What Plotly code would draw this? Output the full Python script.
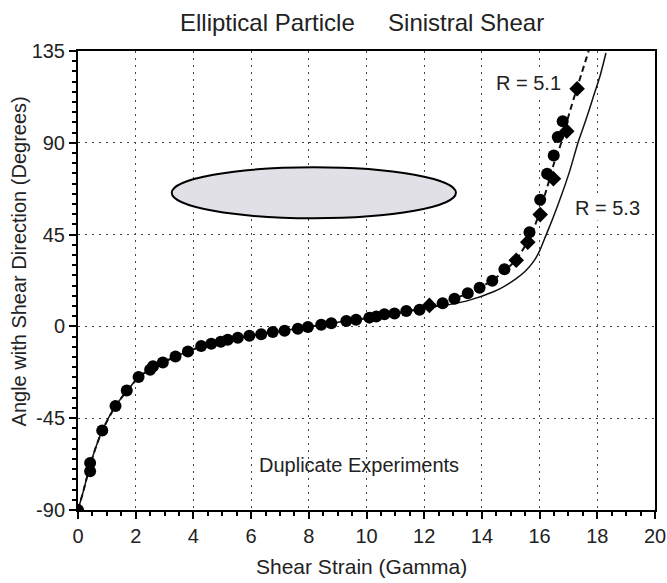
import plotly.graph_objects as go

# ---- data ----
circ_gamma = [0, 0.42, 0.42, 0.84, 1.3, 1.69, 2.1, 2.5, 2.6, 2.94, 3.38, 3.81, 4.27, 4.62, 4.95,
              5.19, 5.54, 5.94, 6.35, 6.75, 7.16, 7.62, 7.97, 8.43, 8.78, 9.30, 9.64, 10.10,
              10.34, 10.62, 10.97, 11.38, 11.84, 12.64, 13.05, 13.51, 13.92, 14.36, 14.78,
              15.65, 16.02, 16.26, 16.49, 16.63, 16.80]
circ_angle = [-90, -67, -71, -51, -39, -31.4, -24.8, -21.2, -19.5, -17.7, -14.8, -12.3, -9.6, -8.5, -7.5,
              -6.6, -5.6, -4.6, -3.8, -2.8, -2.1, -1.1, -0.3, 0.8, 1.6, 2.6, 3.3, 4.3,
              4.8, 6.0, 6.3, 7.5, 8.2, 11.4, 13.6, 16.2, 19.0, 22.4, 28.0,
              46.2, 62.1, 74.8, 83.8, 92.8, 100.6]

diam_gamma = [12.18, 15.19, 15.59, 16.02, 16.48, 16.94, 17.30]
diam_angle = [10.3, 32.4, 41.3, 54.8, 72.4, 95.7, 116.5]

r51_gamma = [0, 0.2, 0.4, 0.6, 0.84, 1.3, 1.7, 2.1, 2.5, 3.0, 3.4, 3.8, 4.3, 5.0, 5.5, 6.0, 6.5,
             7.0, 7.5, 8.0, 8.5, 9.0, 9.5, 10.0, 10.5, 11.0, 11.5, 12.0, 12.5, 13.0, 13.5,
             14.0, 14.5, 15.0, 15.3, 15.6, 15.8, 16.0, 16.3, 16.5, 16.75, 17.0, 17.3, 17.7]
r51_angle = [-90, -80, -69, -60, -51, -39, -31.5, -25, -21, -17.3, -14.7, -12.3, -9.8, -7.2, -5.8,
             -4.5, -3.3, -2.4, -1.3, -0.3, 0.9, 2.0, 3.0, 4.0, 5.2, 6.4, 7.7, 9.3, 11.2, 13.5,
             16.0, 19.5, 24.0, 30.0, 35.0, 42.0, 48.0, 56.0, 70.0, 80.0, 90.0, 103.0, 117.0, 135.0]

r53_gamma = [0, 0.2, 0.4, 0.6, 0.84, 1.3, 1.7, 2.1, 2.5, 3.0, 3.4, 3.8, 4.3, 5.0, 5.5, 6.0, 6.5,
             7.0, 7.5, 8.0, 8.5, 9.0, 9.5, 10.0, 10.5, 11.0, 11.5, 12.0, 12.5, 12.9, 13.6,
             14.4, 14.7, 15.2, 15.5, 15.8, 16.0, 16.23, 16.46, 16.75, 17.04, 17.33, 17.6,
             17.85, 18.1, 18.3]
r53_angle = [-90, -80, -69, -60, -51, -39, -31.5, -25, -21, -17.3, -14.7, -12.3, -9.8, -7.2, -5.8,
             -4.5, -3.3, -2.4, -1.3, -0.3, 0.9, 2.0, 3.0, 4.0, 5.1, 6.2, 7.4, 8.7, 10.0, 10.8,
             13.0, 17.0, 19.0, 23.5, 27.0, 32.0, 37.0, 45.0, 53.0, 64.0, 76.0, 90.0, 101.0,
             112.0, 123.0, 134.0]

x_ticks = [0, 2, 4, 6, 8, 10, 12, 14, 16, 18, 20]
y_ticks = [-90, -45, 0, 45, 90, 135]

FONT = "Liberation Sans, Arial, sans-serif"
TXT = "#222222"

fig = go.Figure()
fig.add_trace(go.Scatter(x=r53_gamma, y=r53_angle, mode="lines", line_shape="spline",
                         line=dict(color="#111111", width=1.5, smoothing=0.6), showlegend=False))
fig.add_trace(go.Scatter(x=r51_gamma, y=r51_angle, mode="lines", line_shape="spline",
                         line=dict(color="#111111", width=2, dash="6px,4px", smoothing=0.6),
                         showlegend=False))
fig.add_trace(go.Scatter(x=circ_gamma, y=circ_angle, mode="markers",
                         marker=dict(symbol="circle", size=12, color="black"), showlegend=False))
fig.add_trace(go.Scatter(x=diam_gamma, y=diam_angle, mode="markers",
                         marker=dict(symbol="diamond", size=12, color="black"), showlegend=False))

# particle ellipse
fig.add_shape(type="circle", xref="x", yref="y", x0=3.25, x1=13.1, y0=53, y1=78,
              line=dict(color="black", width=2), fillcolor="#e0e0e6", layer="above")

axis_common = dict(
    showline=True, linecolor="black", linewidth=2, mirror=True, automargin=False,
    ticks="outside", ticklen=7, tickwidth=1.5, tickcolor="black",
    showgrid=True, gridcolor="#444444", griddash="2px,5px", gridwidth=1,
    zeroline=False, tickfont=dict(family=FONT, size=20, color=TXT),
)
fig.update_xaxes(range=[0, 20], tickvals=x_ticks, ticktext=[str(v) for v in x_ticks],
                 minor=dict(dtick=0.5, ticklen=4, tickcolor="black", ticks="outside", showgrid=False),
                 **axis_common)
fig.update_yaxes(range=[-90, 135], tickvals=y_ticks, ticktext=[str(v) for v in y_ticks],
                 minor=dict(dtick=5, ticklen=4, tickcolor="black", ticks="outside", showgrid=False),
                 **axis_common)

ann = [
    dict(text="Elliptical Particle&nbsp;&nbsp;&nbsp;&nbsp;&nbsp;Sinistral Shear", x=0.492, y=1.063,
         font=dict(size=24)),
    dict(text="Shear Strain (Gamma)", x=0.492, y=-0.124, font=dict(size=21)),
    dict(text="Angle with Shear Direction (Degrees)", x=-0.1015, y=0.5425, textangle=-90,
         font=dict(size=20)),
]
for a in ann:
    a.update(xref="paper", yref="paper", showarrow=False, xanchor="center", yanchor="middle")
    a["font"].update(family=FONT, color=TXT)
    fig.add_annotation(**a)

for txt, gx, ay in [("R = 5.1", 15.6, 119.5), ("R = 5.3", 18.35, 57.8),
                    ("Duplicate Experiments", 9.73, -68)]:
    fig.add_annotation(text=txt, x=gx, y=ay, xref="x", yref="y", showarrow=False,
                       bgcolor="white" if txt.startswith("R") else "rgba(0,0,0,0)",
                       font=dict(family=FONT, size=20, color=TXT))

fig.update_layout(width=667, height=583, margin=dict(l=78, r=12, t=51, b=73),
                  paper_bgcolor="white", plot_bgcolor="white", showlegend=False)

fig.write_html("out.html", config={"displayModeBar": False},
               post_script="document.body.style.margin='0';document.body.style.overflow='hidden';")
